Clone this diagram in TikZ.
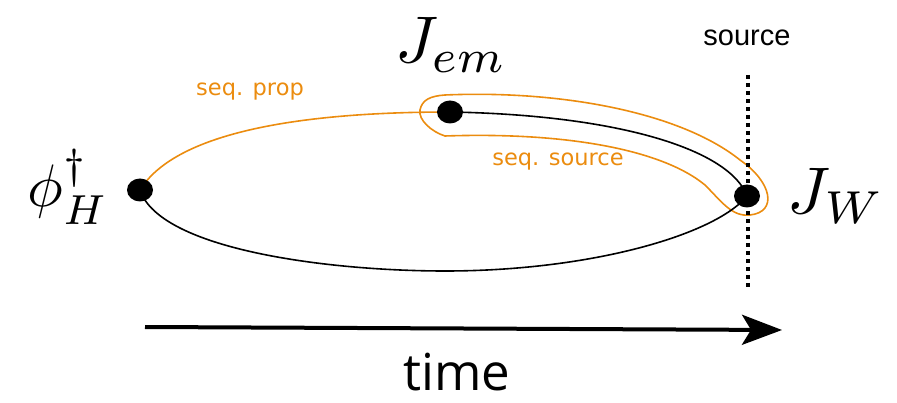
\documentclass[tikz,border=0pt]{standalone}
\usepackage{fontspec}
\usetikzlibrary{shapes.geometric,arrows.meta}
\newfontfamily\djv{DejaVu Sans}
\newfontfamily\lib{Liberation Sans}
\newfontfamily\opn{Open Sans}
\definecolor{seqorange}{RGB}{235,140,15}
\begin{document}
\begin{tikzpicture}[x=1pt,y=-1pt,
  dot/.style={ellipse,fill=black,inner sep=0pt,minimum width=26pt,minimum height=23pt},
  blk/.style={line width=1.6pt,black},
  org/.style={line width=1.6pt,seqorange},
  olabel/.style={text=seqorange,font=\djv\fontsize{22.5}{26}\selectfont,inner sep=0pt},
  mlabel/.style={inner sep=0pt,anchor=base,font=\normalsize}]
\useasboundingbox (0,0) rectangle (897,403);
% points
\coordinate (Hc) at (140,190);
\coordinate (Ec) at (450,112);
\coordinate (Wc) at (747,196);
% orange sequential propagator
\draw[org] (Hc) .. controls (180,125) and (330,112) .. (Ec);
% orange loop (sequential source)
\draw[org] (445,136) .. controls (432,132) and (418,120) .. (420,110)
  .. controls (422,100) and (430,96) .. (445,95)
  .. controls (560,90) and (680,112) .. (740,160)
  .. controls (772,182) and (778,212) .. (750,215)
  .. controls (732,217) and (722,202) .. (705,185)
  .. controls (660,148) and (560,132) .. (445,136) -- cycle;
% black propagators
\draw[blk] (Hc) .. controls (160,250) and (330,271) .. (445,271)
  .. controls (590,271) and (715,235) .. (Wc);
\draw[blk] (Ec) .. controls (620,115) and (730,150) .. (Wc);
% source line
\coordinate (st) at (748,75);
\coordinate (sb) at (748,290);
\draw[line width=3.5pt,dash pattern=on 4pt off 4pt] (st) -- (sb);
\node[font=\lib\fontsize{29}{34}\selectfont,inner sep=0pt] (src) at (747,38) {source};
% dots
\node[dot] (H) at (Hc) {};
\node[dot] (E) at (Ec) {};
\node[dot] (W) at (Wc) {};
% labels
\node[mlabel,scale=6.0] (Hl) at (68,207) {$\phi_H^\dagger$};
\node[mlabel,scale=6.6] (El) at (451,63) {$J_{em}$};
\node[mlabel,scale=6.6] (Wl) at (836,214) {$J_W$};
\node[olabel] (sp) at (250,92) {seq. prop};
\node[olabel] (ss) at (558,162) {seq. source};
% time arrow
\coordinate (ta) at (145,327);
\coordinate (tb) at (782,330);
\draw[line width=4pt,-{Stealth[length=40pt,width=30pt,inset=9pt]}] (ta) -- (tb);
\node[font=\opn\fontsize{51}{60}\selectfont,inner sep=0pt,anchor=base] (time) at (457,390) {time};
\end{tikzpicture}
\end{document}
